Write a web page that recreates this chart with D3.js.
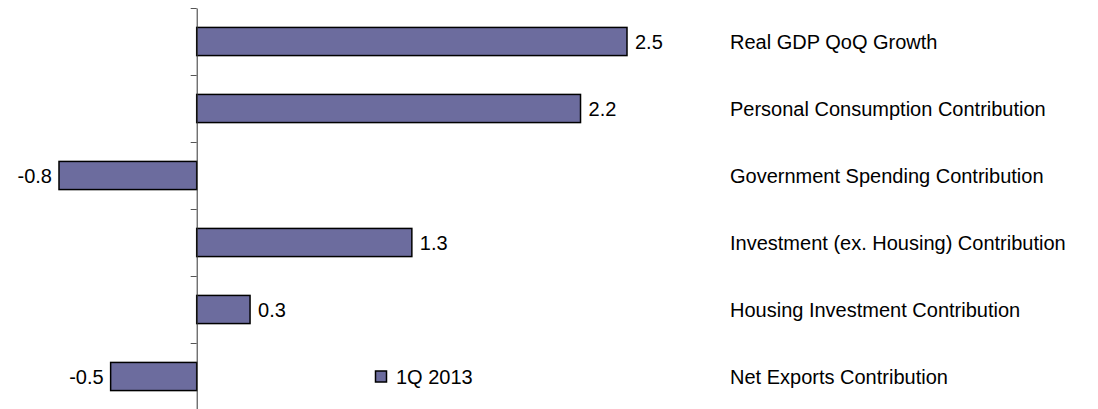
<!DOCTYPE html>
<html>
<head>
<meta charset="utf-8">
<script src="https://cdn.jsdelivr.net/npm/d3@7"></script>
<style>
  html, body { margin: 0; padding: 0; background: #fff; }
  svg { display: block; font-family: "Liberation Sans", Arial, sans-serif; }
</style>
</head>
<body>
<svg id="chart" width="1098" height="409"></svg>
<script>
const categories = [
  "Real GDP QoQ Growth",
  "Personal Consumption Contribution",
  "Government Spending Contribution",
  "Investment (ex. Housing) Contribution",
  "Housing Investment Contribution",
  "Net Exports Contribution"
];
const values = [2.5, 2.23, -0.8, 1.25, 0.31, -0.5];
const seriesName = "1Q 2013";

const svg = d3.select("#chart");
const barColor = "#6c6c9e";

const x = d3.scaleLinear().domain([-0.8, 2.5]).range([59, 627]);
const y = d3.scaleBand().domain(categories).range([8, 410]).paddingInner(0.58).paddingOuter(0.29);
const fmt = d => d.toFixed(1);

// bars
svg.append("g").selectAll("rect").data(values).join("rect")
  .attr("x", d => x(Math.min(0, d)))
  .attr("y", (d, i) => y(categories[i]))
  .attr("width", d => Math.abs(x(d) - x(0)))
  .attr("height", y.bandwidth())
  .attr("fill", barColor)
  .attr("stroke", "#000")
  .attr("stroke-width", 1.5);

// axis with ticks at category boundaries
const yb = d3.scaleLinear().domain([0, categories.length]).range([8, 410]);
const axis = svg.append("g")
  .attr("transform", `translate(${x(0)},0)`)
  .call(d3.axisLeft(yb).ticks(categories.length).tickSize(6).tickSizeOuter(0).tickFormat(""));
axis.select(".domain").attr("stroke", "#333").attr("stroke-width", 1);
axis.selectAll(".tick line").attr("stroke", "#555").attr("stroke-width", 1);

// value labels
svg.append("g").selectAll("text").data(values).join("text")
  .attr("x", d => d >= 0 ? x(d) + 8 : x(d) - 7)
  .attr("y", (d, i) => y(categories[i]) + y.bandwidth() / 2)
  .attr("dy", "0.35em")
  .attr("text-anchor", d => d >= 0 ? "start" : "end")
  .attr("font-size", 20)
  .attr("fill", "#000")
  .text(d => fmt(d));

// category labels on the right
svg.append("g").selectAll("text").data(categories).join("text")
  .attr("x", 730)
  .attr("y", d => y(d) + y.bandwidth() / 2)
  .attr("dy", "0.35em")
  .attr("font-size", 20)
  .attr("fill", "#000")
  .text(d => d);

// legend
const ly = y(categories[categories.length - 1]) + y.bandwidth() / 2;
const lg = svg.append("g");
lg.append("rect")
  .attr("x", 375.5).attr("y", ly - 5.5)
  .attr("width", 11).attr("height", 11)
  .attr("fill", barColor).attr("stroke", "#000").attr("stroke-width", 1.5);
lg.append("text")
  .attr("x", 396).attr("y", ly).attr("dy", "0.35em")
  .attr("font-size", 20).attr("fill", "#000")
  .text(seriesName);
</script>
</body>
</html>
